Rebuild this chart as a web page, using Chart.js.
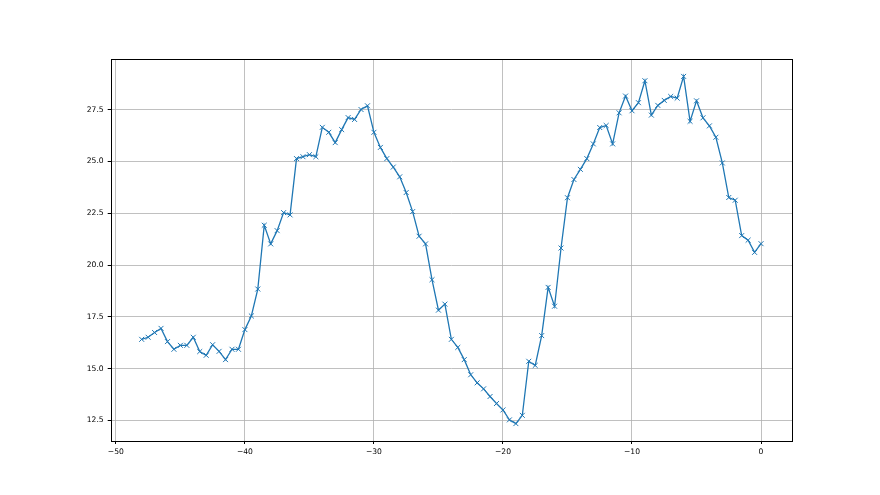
<!DOCTYPE html>
<html>
<head>
<meta charset="utf-8">
<script src="https://cdn.jsdelivr.net/npm/chart.js@4/dist/chart.umd.min.js"></script>
<style>
  body { margin: 0; background: #fff; }
  #wrap { width: 880px; height: 495px; }
</style>
</head>
<body>
<div id="wrap"><canvas id="chart" width="880" height="495"></canvas></div>
<script>
const xValues = [
    -48, -47.5, -47, -46.5, -46, -45.5, -45, -44.5, -44, -43.5,
    -43, -42.5, -42, -41.5, -41, -40.5, -40, -39.5, -39, -38.5,
    -38, -37.5, -37, -36.5, -36, -35.5, -35, -34.5, -34, -33.5,
    -33, -32.5, -32, -31.5, -31, -30.5, -30, -29.5, -29, -28.5,
    -28, -27.5, -27, -26.5, -26, -25.5, -25, -24.5, -24, -23.5,
    -23, -22.5, -22, -21.5, -21, -20.5, -20, -19.5, -19, -18.5,
    -18, -17.5, -17, -16.5, -16, -15.5, -15, -14.5, -14, -13.5,
    -13, -12.5, -12, -11.5, -11, -10.5, -10, -9.5, -9, -8.5,
    -8, -7.5, -7, -6.5, -6, -5.5, -5, -4.5, -4, -3.5,
    -3, -2.5, -2, -1.5, -1, -0.5, 0
];
const yValues = [
    16.41, 16.51, 16.74, 16.94, 16.30, 15.93, 16.12, 16.12, 16.51, 15.82,
    15.64, 16.15, 15.83, 15.43, 15.93, 15.93, 16.88, 17.54, 18.84, 21.92,
    21.02, 21.66, 22.53, 22.42, 25.14, 25.23, 25.33, 25.23, 26.65, 26.41,
    25.91, 26.54, 27.12, 27.03, 27.51, 27.69, 26.41, 25.68, 25.14, 24.73,
    24.26, 23.50, 22.58, 21.39, 21.02, 19.29, 17.82, 18.11, 16.41, 16.02,
    15.43, 14.70, 14.31, 14.02, 13.65, 13.31, 13.00, 12.52, 12.34, 12.74,
    15.35, 15.15, 16.59, 18.92, 18.01, 20.82, 23.25, 24.13, 24.62, 25.14,
    25.85, 26.64, 26.74, 25.85, 27.35, 28.16, 27.45, 27.84, 28.90, 27.24,
    27.71, 27.95, 28.14, 28.06, 29.11, 26.94, 27.93, 27.11, 26.72, 26.17,
    24.93, 23.26, 23.13, 21.42, 21.20, 20.61, 21.03
];
const xTicks = [-50, -40, -30, -20, -10, 0];
const xTickLabels = ['\u221250', '\u221240', '\u221230', '\u221220', '\u221210', '0'];
const yTicks = [12.5, 15, 17.5, 20, 22.5, 25, 27.5];
const yTickLabels = ['12.5', '15.0', '17.5', '20.0', '22.5', '25.0', '27.5'];

const points = xValues.map((x, i) => ({ x: x, y: yValues[i] }));

// full box around the axes, like matplotlib spines
const framePlugin = {
    id: 'frame',
    afterDatasetsDraw(chart) {
        const a = chart.chartArea;
        const ctx = chart.ctx;
        ctx.save();
        ctx.strokeStyle = '#000';
        ctx.lineWidth = 1;
        ctx.strokeRect(Math.round(a.left) + 0.5, Math.round(a.top) + 0.5,
            Math.round(a.right - a.left), Math.round(a.bottom - a.top));
        ctx.restore();
    }
};

const tickFont = { family: 'DejaVu Sans', size: 7.6 };

new Chart(document.getElementById('chart').getContext('2d'), {
    type: 'line',
    data: {
        datasets: [{
            data: points,
            borderColor: '#1f77b4',
            backgroundColor: '#1f77b4',
            borderWidth: 1.3,
            pointStyle: 'crossRot',
            pointRadius: 3.5,
            pointBorderWidth: 1,
            pointBorderColor: '#1f77b4',
            pointHoverRadius: 3.5,
            tension: 0,
            fill: false
        }]
    },
    options: {
        responsive: false,
        animation: false,
        events: [],
        layout: { padding: { left: 55, right: 88, top: 59, bottom: 34 } },
        plugins: { legend: { display: false }, tooltip: { enabled: false } },
        scales: {
            x: {
                type: 'linear',
                min: -50.4,
                max: 2.4,
                afterBuildTicks: (scale) => { scale.ticks = xTicks.map(v => ({ value: v })); },
                afterFit: (scale) => { scale.height = 20; },
                ticks: {
                    autoSkip: false,
                    maxRotation: 0,
                    padding: 3,
                    color: '#000',
                    font: tickFont,
                    callback: (v, i) => xTickLabels[i]
                },
                grid: { color: '#b0b0b0', lineWidth: 0.8, tickColor: '#000', tickLength: 3, tickWidth: 1 },
                border: { display: false }
            },
            y: {
                min: 11.5,
                max: 29.95,
                afterBuildTicks: (scale) => { scale.ticks = yTicks.map(v => ({ value: v })); },
                afterFit: (scale) => { scale.width = 55.7; },
                ticks: {
                    autoSkip: false,
                    padding: 4,
                    color: '#000',
                    font: tickFont,
                    callback: (v, i) => yTickLabels[i]
                },
                grid: { color: '#b0b0b0', lineWidth: 0.8, tickColor: '#000', tickLength: 3, tickWidth: 1 },
                border: { display: false }
            }
        }
    },
    plugins: [framePlugin]
});
</script>
</body>
</html>
